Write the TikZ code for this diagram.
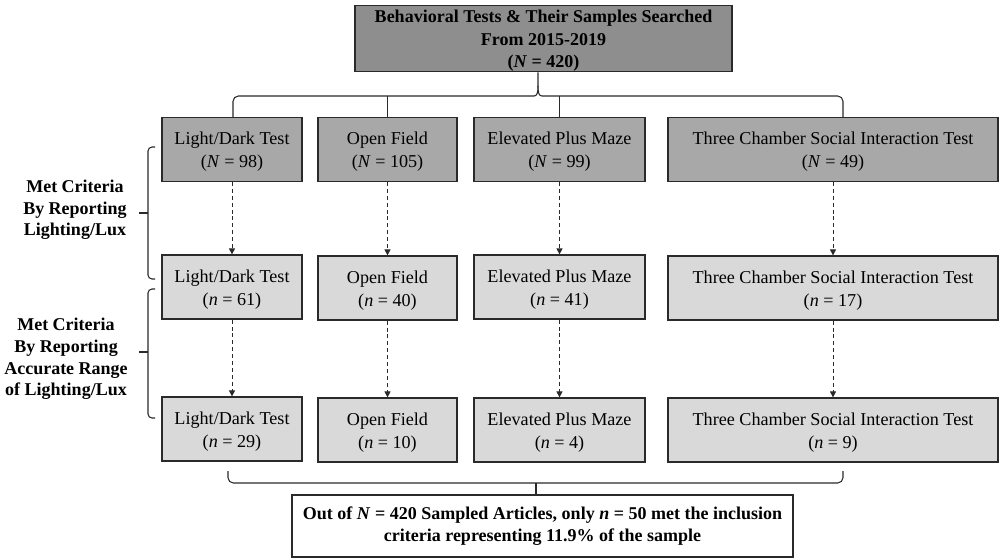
\documentclass[tikz,border=0pt]{standalone}
\usepackage{fontspec}
\setmainfont{Liberation Serif}
\usetikzlibrary{arrows.meta}
\definecolor{topgray}{HTML}{8E8E8E}
\definecolor{midgray}{HTML}{A8A8A8}
\definecolor{lightgray}{HTML}{D9D9D9}
\definecolor{edge}{HTML}{2A2A2A}
\begin{document}
\begin{tikzpicture}[x=0.75pt,y=-0.75pt,
  every node/.style={font=\fontsize{13.6pt}{17.2pt}\selectfont},
  box/.style={draw=edge,line width=0.9pt,align=center,inner sep=0pt,minimum height=#1},
  box/.default=47.5pt,
  topbox/.style={box=50pt,fill=topgray,font=\fontsize{13.5pt}{17pt}\selectfont\bfseries},
  rowa/.style={box,fill=midgray},
  rowb/.style={box=48pt,fill=lightgray},
  endbox/.style={box=46.5pt,fill=white,font=\fontsize{13.5pt}{17pt}\selectfont\bfseries},
  sidelabel/.style={align=center,font=\fontsize{13.5pt}{16.2pt}\selectfont\bfseries},
  flow/.style={draw=edge,line width=0.6pt,dash pattern=on 3pt off 2.2pt,-{Triangle[length=4.5pt,width=4.5pt]}},
  bracket/.style={draw=edge,line width=0.8pt}
]
\useasboundingbox (0,0) rectangle (1000,560);

% top box
\node[topbox,minimum width=282.75pt] (top) at (543.5,38.5) {\rule{0pt}{13pt}Behavioral Tests \& Their Samples Searched\\From 2015-2019\\(\textit{N} = 420)};

% row 1
\node[rowa,minimum width=105pt]   (ld1) at (232,149.5)   {\rule{0pt}{13pt}Light/Dark Test\\(\textit{N} = 98)};
\node[rowa,minimum width=104.25pt](of1) at (387.5,149.5) {\rule{0pt}{13pt}Open Field\\(\textit{N} = 105)};
\node[rowa,minimum width=128.25pt](ep1) at (559.5,149.5) {\rule{0pt}{13pt}Elevated Plus Maze\\(\textit{N} = 99)};
\node[rowa,minimum width=247.5pt] (tc1) at (833,149.5)   {\rule{0pt}{13pt}Three Chamber Social Interaction Test\\(\textit{N} = 49)};

% row 2
\node[rowb,minimum width=105pt]   (ld2) at (232,287)   {\rule{0pt}{13pt}Light/Dark Test\\(\textit{n} = 61)};
\node[rowb,minimum width=104.25pt](of2) at (387.5,288) {\rule{0pt}{13pt}Open Field\\(\textit{n} = 40)};
\node[rowb,minimum width=128.25pt](ep2) at (559.5,287) {\rule{0pt}{13pt}Elevated Plus Maze\\(\textit{n} = 41)};
\node[rowb,minimum width=247.5pt] (tc2) at (833,288)   {\rule{0pt}{13pt}Three Chamber Social Interaction Test\\(\textit{n} = 17)};

% row 3
\node[rowb,minimum width=105pt]   (ld3) at (232,429)   {\rule{0pt}{13pt}Light/Dark Test\\(\textit{n} = 29)};
\node[rowb,minimum width=104.25pt](of3) at (387.5,430) {\rule{0pt}{13pt}Open Field\\(\textit{n} = 10)};
\node[rowb,minimum width=128.25pt](ep3) at (559.5,430) {\rule{0pt}{13pt}Elevated Plus Maze\\(\textit{n} = 4)};
\node[rowb,minimum width=247.5pt] (tc3) at (833,430)   {\rule{0pt}{13pt}Three Chamber Social Interaction Test\\(\textit{n} = 9)};

% bottom box
\node[endbox,minimum width=375.75pt] (end) at (542.5,526) {Out of \textit{N} = 420 Sampled Articles, only \textit{n} = 50 met the inclusion\\criteria representing 11.9\% of the sample};

% side labels
\node[sidelabel] (lab1) at (75,210) {Met Criteria\\By Reporting\\Lighting/Lux};
\node[sidelabel] (lab2) at (66,359) {Met Criteria\\By Reporting\\Accurate Range\\of Lighting/Lux};

% dashed arrows
\foreach \a/\b in {ld1/ld2,of1/of2,ep1/ep2,tc1/tc2,ld2/ld3,of2/of3,ep2/ep3,tc2/tc3}
  \draw[flow] (\a.south) -- (\b.north);

% top brace
\coordinate (tl) at (233,117);
\coordinate (tr) at (843,117);
\coordinate (tt) at (538,96);
\draw[bracket,rounded corners=4pt] (tl) -- (233,96) -- (534,96);
\draw[bracket] (534,96) .. controls (537,96) and (538,93) .. (538,86) -- (top.south -| tt);
\draw[bracket] (538,86) .. controls (538,93) and (539,96) .. (542,96);
\draw[bracket,rounded corners=4pt] (542,96) -- (843,96) -- (tr);
\draw[bracket] (of1.north) -- (of1.north |- tt);
\draw[bracket] (ep1.north) -- (ep1.north |- tt);

% bottom brace
\coordinate (bl) at (228,471);
\coordinate (br) at (843,471);
\coordinate (bt) at (536,483);
\draw[bracket,rounded corners=4pt] (bl) -- (228,483) -- (843,483) -- (br);
\draw[bracket] (bt) -- (end.north -| bt);

% left braces
\draw[bracket,rounded corners=3pt] (155,147) -- (148,147) -- (148,279) -- (155,279);
\draw[bracket] (148,213) -- (139,213);
\draw[bracket,rounded corners=3pt] (155,289) -- (148,289) -- (148,418) -- (155,418);
\draw[bracket] (148,352) -- (139,352);
\end{tikzpicture}
\end{document}
